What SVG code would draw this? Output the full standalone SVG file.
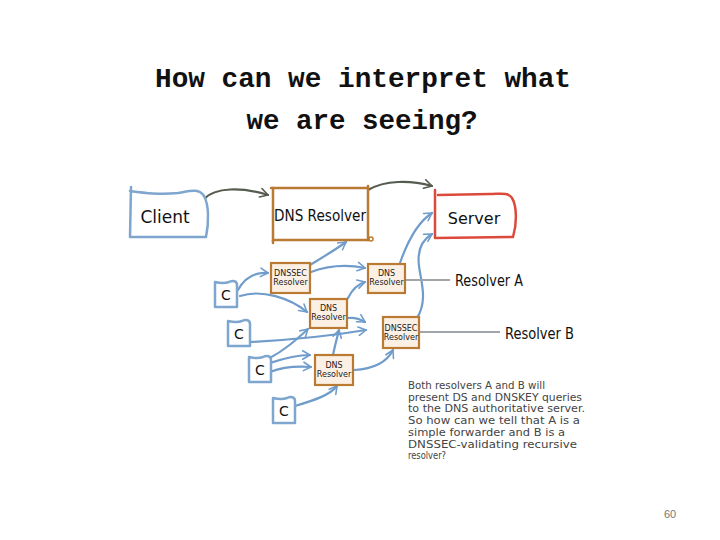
<svg xmlns="http://www.w3.org/2000/svg" width="720" height="540" viewBox="0 0 720 540">
<style>
.title{font-family:"Liberation Mono","DejaVu Sans Mono",monospace;font-weight:bold;font-size:28px;fill:#111}
.hand{font-family:"DejaVu Sans","Liberation Sans",sans-serif;fill:#111}
.blue{fill:#fff;stroke:#7ea6cf;stroke-width:2.5;stroke-linejoin:round;stroke-linecap:round}
.orange{fill:#fff;stroke:#b97a34;stroke-width:2.5;stroke-linecap:round}
.sm{fill:#fcefe4;stroke:#b97a34;stroke-width:2.2;stroke-linecap:round}
.red{fill:#fff;stroke:#dc4a3c;stroke-width:2.5;stroke-linejoin:round;stroke-linecap:round}
.arr{fill:none;stroke:#6f9ccb;stroke-width:2.2;stroke-linecap:round;marker-end:url(#ab)}
.darr{fill:none;stroke:#565b4f;stroke-width:2.2;stroke-linecap:round;marker-end:url(#ad)}
.gl{stroke:#a3a6a8;stroke-width:2}
.sl{font-family:"DejaVu Sans","Liberation Sans",sans-serif;font-size:8px;fill:#222;text-anchor:middle}
.para{font-family:"DejaVu Sans","Liberation Sans",sans-serif;font-size:10.5px;fill:#444}
</style>
<defs>
<marker id="ab" viewBox="0 0 10 10" refX="8" refY="5" markerWidth="4.8" markerHeight="4.8" orient="auto" markerUnits="strokeWidth">
<path d="M1,1 L8,5 L1,9" fill="none" stroke="#6f9ccb" stroke-width="1.5" stroke-linecap="round" stroke-linejoin="round"/>
</marker>
<marker id="ad" viewBox="0 0 10 10" refX="8" refY="5" markerWidth="5" markerHeight="5" orient="auto" markerUnits="strokeWidth">
<path d="M1,1 L8,5 L1,9" fill="none" stroke="#565b4f" stroke-width="1.5" stroke-linecap="round" stroke-linejoin="round"/>
</marker>
<path id="cbox" d="M0,1 L0,26 L22,26 L22,4 C22,0 18,-1 14,1 C9,3 4,2 0,1 Z"/>
</defs>
<rect width="720" height="540" fill="#fff"/>
<g id="title">
<text class="title" x="363" y="87" text-anchor="middle" textLength="416" lengthAdjust="spacingAndGlyphs">How can we interpret what</text>
<text class="title" x="362" y="129" text-anchor="middle" textLength="231" lengthAdjust="spacingAndGlyphs">we are seeing?</text>
</g>
<g id="connectors">
<path class="darr" d="M204,199 C215,187 242,187 268,195"/>
<path class="darr" d="M368,190 C385,180 410,180 432,186"/>
<path class="arr" d="M238,290 C245,277 256,272 268,273"/>
<path class="arr" d="M240,296 C262,289 290,298 307,312"/>
<path class="arr" d="M310,265 C325,256 335,250 346,242"/>
<path class="arr" d="M311,272 C330,265 350,265 365,268"/>
<path class="arr" d="M348,298 C352,290 358,284 365,282"/>
<path class="arr" d="M400,263 C408,240 418,222 432,213"/>
<path class="arr" d="M417,318 C428,300 421,282 419,266 C417,250 422,240 432,234"/>
<path class="arr" d="M348,318 C355,317 360,319 365,322"/>
<path class="arr" d="M250,342 C290,340 330,336 366,330"/>
<path class="arr" d="M268,359 C285,350 296,340 308,329"/>
<path class="arr" d="M270,363 C285,358 296,355 310,355"/>
<path class="arr" d="M270,372 C285,366 298,366 311,367"/>
<path class="arr" d="M333,355 C335,345 337,338 339,330"/>
<path class="arr" d="M354,370 C372,369 386,364 393,350"/>
<path class="arr" d="M295,406 C315,400 330,395 337,386"/>
<line class="gl" x1="405" y1="280" x2="450" y2="280"/>
<line class="gl" x1="420" y1="332" x2="500" y2="332"/>
</g>
<g id="client">
<path class="blue" d="M131,187 L130,237 L206,237 C209,222 209,205 204,196 C199,188 190,191 178,193 C160,195 145,193 130,191"/>
<text class="hand" x="165" y="223" font-size="17" text-anchor="middle">Client</text>
</g>
<g id="dns-resolver">
<rect class="orange" x="273" y="188" width="95" height="52"/>
<path class="orange" d="M271,188 L273,188 M368,186 L368,188 M273,240 L273,243 M368,240 L371,239" fill="none"/>
<circle cx="371" cy="239" r="2" fill="#fff" stroke="#b97a34" stroke-width="1.5"/>
<text class="hand" x="320" y="221" font-size="15" text-anchor="middle" textLength="92" lengthAdjust="spacingAndGlyphs">DNS Resolver</text>
</g>
<g id="server">
<path class="red" d="M435,190 L435,238 L513,237 C517,224 517,206 512,198 C508,192 500,194 490,194 L438,195"/>
<text class="hand" x="474" y="224" font-size="16" text-anchor="middle">Server</text>
</g>
<g id="dnssec-1">
<rect class="sm" x="271" y="263" width="39" height="30"/>
<text class="sl" x="290.5" y="276">DNSSEC</text>
<text class="sl" x="290.5" y="285">Resolver</text>
</g>
<g id="dns-a">
<rect class="sm" x="368" y="264" width="37" height="29"/>
<text class="sl" x="386.5" y="276">DNS</text>
<text class="sl" x="386.5" y="285">Resolver</text>
</g>
<g id="dns-2">
<rect class="sm" x="310" y="299" width="37" height="29"/>
<text class="sl" x="328.5" y="311">DNS</text>
<text class="sl" x="328.5" y="320">Resolver</text>
</g>
<g id="dnssec-b">
<rect class="sm" x="383" y="317" width="36" height="31"/>
<text class="sl" x="401" y="331">DNSSEC</text>
<text class="sl" x="401" y="340">Resolver</text>
</g>
<g id="dns-3">
<rect class="sm" x="315" y="355" width="38" height="30"/>
<text class="sl" x="334" y="368">DNS</text>
<text class="sl" x="334" y="377">Resolver</text>
</g>
<g id="c1">
<use href="#cbox" class="blue" transform="translate(215,281)"/>
<text class="hand" x="226" y="300" font-size="14" text-anchor="middle">C</text>
</g>
<g id="c2">
<use href="#cbox" class="blue" transform="translate(228,320)"/>
<text class="hand" x="239" y="339" font-size="14" text-anchor="middle">C</text>
</g>
<g id="c3">
<use href="#cbox" class="blue" transform="translate(249,356)"/>
<text class="hand" x="260" y="375" font-size="14" text-anchor="middle">C</text>
</g>
<g id="c4">
<use href="#cbox" class="blue" transform="translate(273,397)"/>
<text class="hand" x="284" y="416" font-size="14" text-anchor="middle">C</text>
</g>
<g id="label-a">
<text class="hand" x="455" y="286" font-size="15" textLength="68" lengthAdjust="spacingAndGlyphs">Resolver A</text>
</g>
<g id="label-b">
<text class="hand" x="505" y="339" font-size="15" textLength="69" lengthAdjust="spacingAndGlyphs">Resolver B</text>
</g>
<g id="note">
<text class="para" x="408" y="389" textLength="137" lengthAdjust="spacingAndGlyphs">Both resolvers A and B will</text>
<text class="para" x="408" y="400.7" textLength="174" lengthAdjust="spacingAndGlyphs">present DS and DNSKEY queries</text>
<text class="para" x="408" y="412.4" textLength="177" lengthAdjust="spacingAndGlyphs">to the DNS authoritative server.</text>
<text class="para" x="408" y="424.1" textLength="172" lengthAdjust="spacingAndGlyphs">So how can we tell that A is a</text>
<text class="para" x="408" y="435.8" textLength="157" lengthAdjust="spacingAndGlyphs">simple forwarder and B is a</text>
<text class="para" x="408" y="447.5" textLength="169" lengthAdjust="spacingAndGlyphs">DNSSEC-validating recursive</text>
<text class="para" x="408" y="459.2" textLength="38" lengthAdjust="spacingAndGlyphs">resolver?</text>
</g>
<text x="670" y="518" font-family="Liberation Sans, sans-serif" font-size="11" fill="#777" text-anchor="middle">60</text>
</svg>
